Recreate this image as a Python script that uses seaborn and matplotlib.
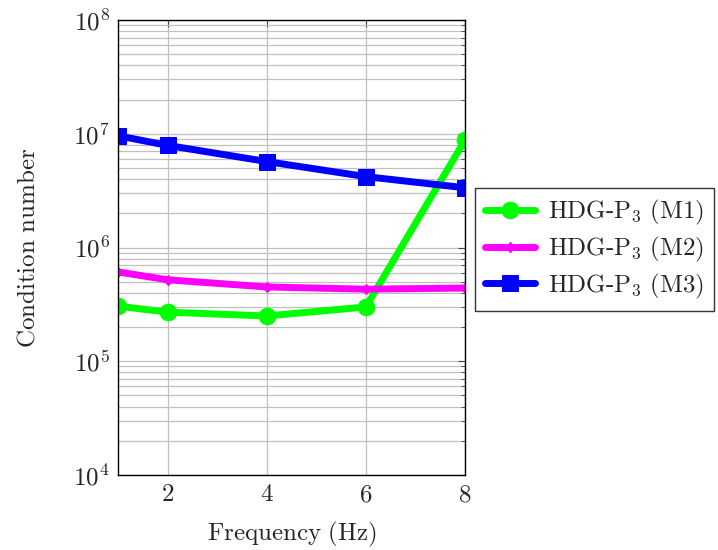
import numpy as np
import pandas as pd
import seaborn as sns
import matplotlib.pyplot as plt
from matplotlib.ticker import LogLocator, FuncFormatter, FixedLocator, NullFormatter

freq = [1, 2, 4, 6, 8]
cond_m1 = [3.05e5, 2.7e5, 2.5e5, 3.0e5, 8.8e6]
cond_m2 = [6.1e5, 5.2e5, 4.5e5, 4.3e5, 4.4e5]
cond_m3 = [9.6e6, 7.9e6, 5.7e6, 4.2e6, 3.35e6]
labels = [r'$\mathrm{HDG\text{-}P_3\ (M1)}$', r'$\mathrm{HDG\text{-}P_3\ (M2)}$', r'$\mathrm{HDG\text{-}P_3\ (M3)}$']

sns.set_style('white')
plt.rcParams['mathtext.fontset'] = 'cm'
plt.rcParams['font.family'] = ['DejaVu Serif']

fig = plt.figure(figsize=(7.18, 5.5), dpi=100)
ax = fig.add_axes([0.1643, 0.1364, 0.4833, 0.8272])

styles = [('#00ff00', 'o', 12, cond_m1), ('#ff00ff', 'D', 5, cond_m2), ('#0000ff', 's', 11, cond_m3)]
for (col, mk, ms, vals), lab in zip(styles, labels):
    sns.lineplot(x=freq, y=vals, ax=ax, color=col, marker=mk, markersize=ms,
                 markeredgecolor=col, linewidth=5, label=lab)

ax.set_yscale('log')
ax.set_xlim(1, 8)
ax.set_ylim(1e4, 1e8)
ax.xaxis.set_major_locator(FixedLocator([2, 4, 6, 8]))
ax.xaxis.set_major_formatter(FuncFormatter(lambda v, p: f'${int(v)}$'))
ax.yaxis.set_major_locator(LogLocator(base=10, numticks=10))
ax.yaxis.set_minor_locator(LogLocator(base=10, subs=np.arange(2, 10), numticks=20))
ax.yaxis.set_major_formatter(FuncFormatter(lambda v, p: f'$10^{{{int(round(np.log10(v)))}}}$'))
ax.yaxis.set_minor_formatter(NullFormatter())

ax.grid(True, which='major', color='#c0c0c0', linewidth=0.9)
ax.grid(True, which='minor', axis='y', color='#c0c0c0', linewidth=0.9)
ax.tick_params(which='both', direction='in', top=True, right=True, labelsize=18, color='#444444')
ax.tick_params(which='major', length=5, pad=6)
ax.tick_params(which='minor', length=3)
for s in ax.spines.values():
    s.set_color('black')
    s.set_linewidth(1)

ax.set_xlabel(r'$\mathrm{Frequency\ (Hz)}$', fontsize=18, labelpad=10)
ax.set_ylabel(r'$\mathrm{Condition\ number}$', fontsize=18, labelpad=24)

leg = ax.legend(loc='upper left', bbox_to_anchor=(1.03, 0.63), fontsize=18, frameon=True,
                fancybox=False, edgecolor='black', borderpad=0.4, handlelength=2.0,
                handletextpad=0.5, labelspacing=0.3, borderaxespad=0)
leg.get_frame().set_linewidth(1)

fig.savefig('out.png', dpi=100)
